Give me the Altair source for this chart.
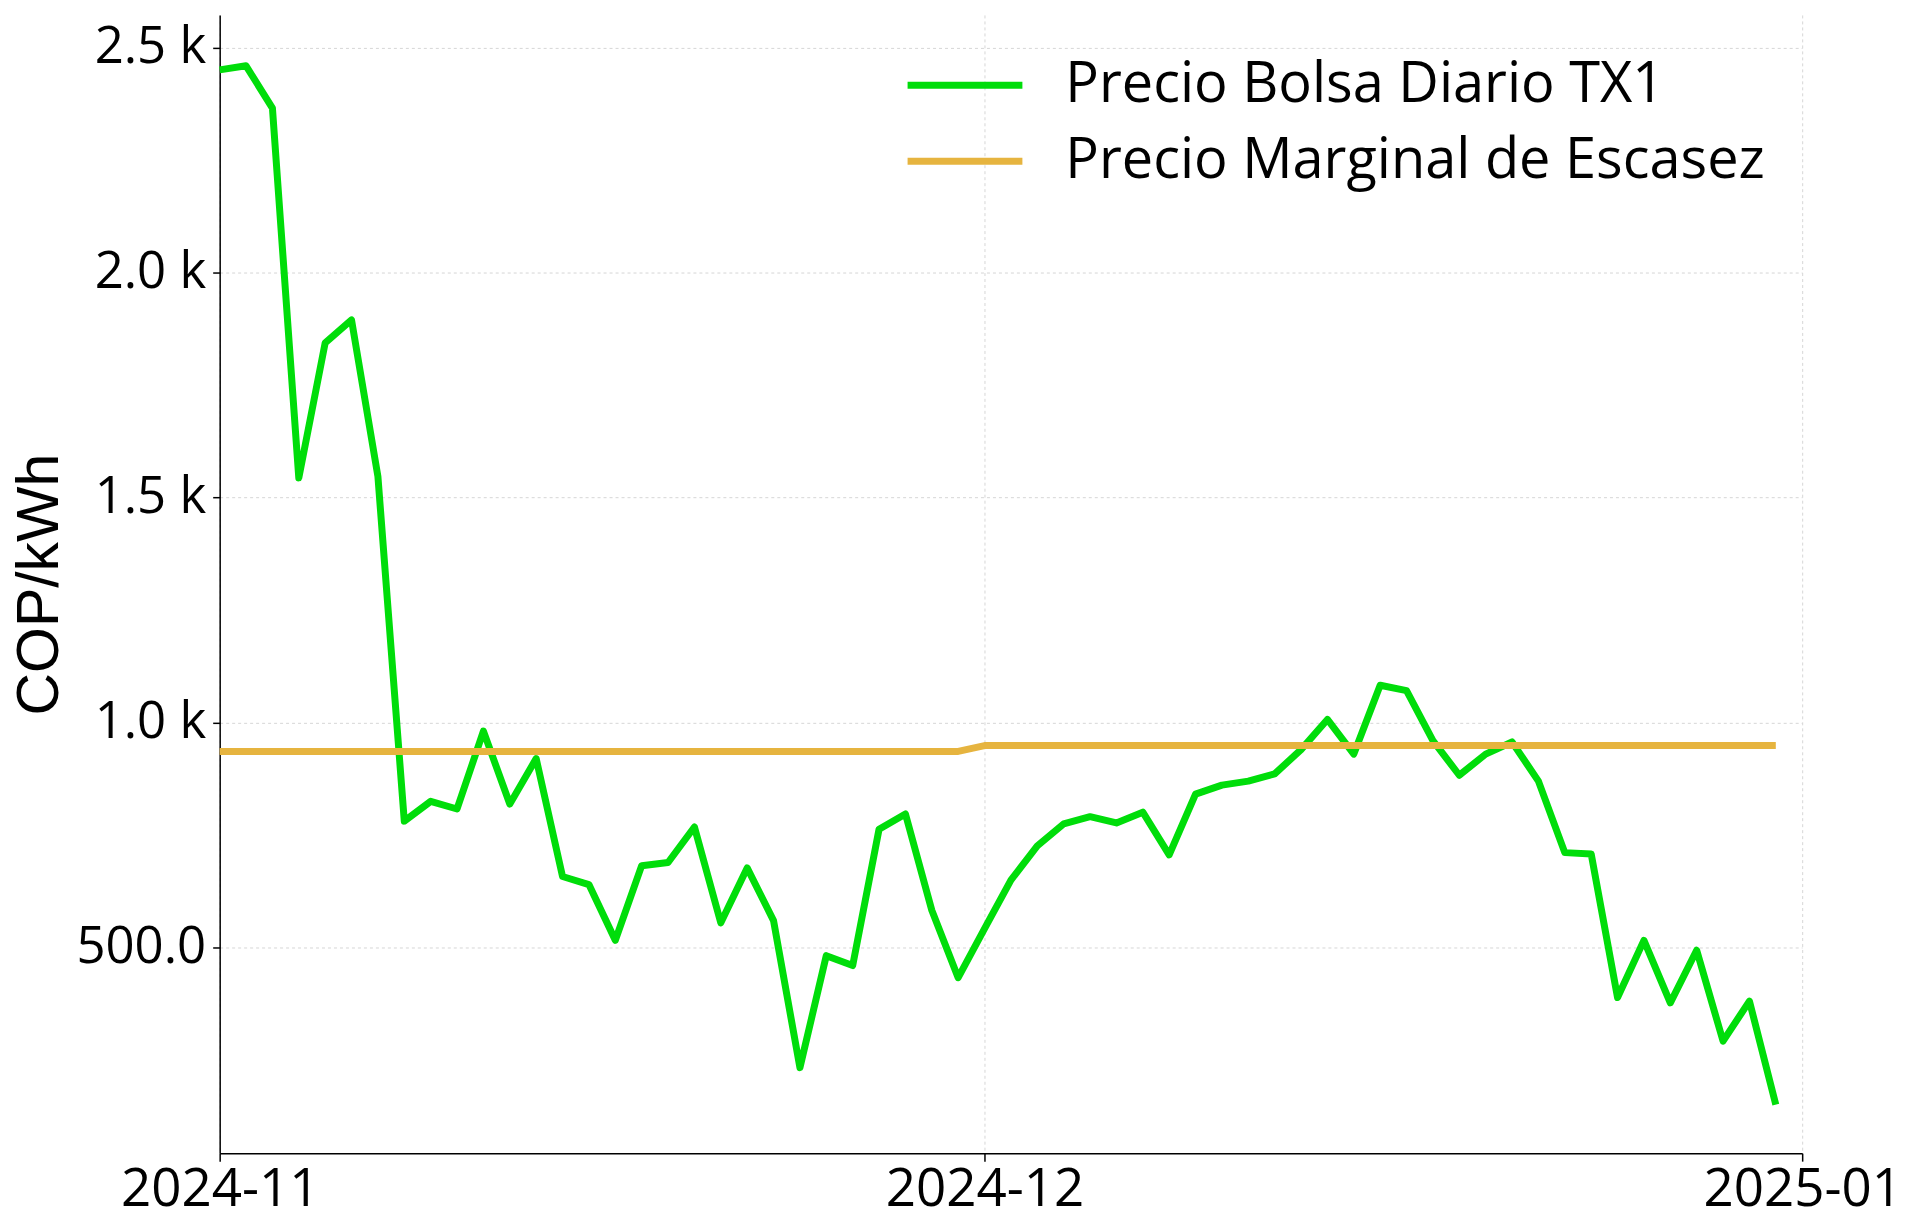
import altair as alt
import pandas as pd

# ---- data ----
dates = [d.strftime("%Y-%m-%d") for d in pd.date_range("2024-11-02", "2024-12-31", freq="D")]

precio_bolsa = [
    2451, 2460, 2366, 1544, 1844, 1895, 1547, 781, 825, 808,
    981, 819, 920, 658, 640, 516, 682, 689, 768, 555,
    677, 560, 233, 482, 460, 763, 797, 583, 433,
    542, 650, 726, 775, 791, 777, 801, 706, 841, 861,
    870, 886, 940, 1007, 930, 1083, 1071, 960, 883, 930,
    957, 870, 711, 708, 389, 516, 377, 494, 292, 381, 151,
]

precio_escasez = [
    936, 936, 936, 936, 936, 936, 936, 936, 936, 936,
    936, 936, 936, 936, 936, 936, 936, 936, 936, 936,
    936, 936, 936, 936, 936, 936, 936, 936, 936,
    949, 949, 949, 949, 949, 949, 949, 949, 949, 949,
    949, 949, 949, 949, 949, 949, 949, 949, 949, 949,
    949, 949, 949, 949, 949, 949, 949, 949, 949, 949, 949,
]

series_names = ["Precio Bolsa Diario TX1", "Precio Marginal de Escasez"]
series_colors = ["#00dd0a", "#e6b43f"]
y_ticks = [500, 1000, 1500, 2000, 2500]

rows = []
for d, v in zip(dates, precio_bolsa):
    rows.append({"fecha": d, "valor": v, "serie": series_names[0]})
for d, v in zip(dates, precio_escasez):
    rows.append({"fecha": d, "valor": v, "serie": series_names[1]})
df = pd.DataFrame(rows)

x_start = alt.DateTime(year=2024, month=11, date=2, utc=True)
x_mid = alt.DateTime(year=2024, month=12, date=1, utc=True)
x_end = alt.DateTime(year=2025, month=1, date=1, utc=True)

chart = (
    alt.Chart(df)
    .mark_line(strokeWidth=7, strokeJoin="round", strokeCap="butt")
    .encode(
        x=alt.X(
            "fecha:T",
            scale=alt.Scale(type="utc", domain=[x_start, x_end], nice=False),
            axis=alt.Axis(
                title=None,
                values=[x_start, x_mid, x_end],
                labelExpr="utcFormat(datum.value, '%Y-%m')",
                labelFlush=False,
                labelOverlap=False,
                labelLimit=500,
                labelFont="Open Sans",
                labelFontSize=53,
                labelColor="black",
                labelPadding=2,
                tickSize=8,
                tickWidth=1.5,
                tickColor="black",
                domainColor="black",
                domainWidth=1.5,
                grid=True,
                gridColor="#d6d6d6",
                gridDash=[3, 3],
                gridWidth=1,
            ),
        ),
        y=alt.Y(
            "valor:Q",
            scale=alt.Scale(domain=[43, 2573], nice=False, zero=False),
            axis=alt.Axis(
                title="COP/kWh",
                titleFont="Liberation Sans",
                titleFontSize=59,
                titleFontWeight="normal",
                titleColor="black",
                titlePadding=6,
                values=y_ticks,
                labelExpr="datum.value >= 1000 ? format(datum.value / 1000, '.1f') + ' k' : format(datum.value, '.1f')",
                labelFont="Open Sans",
                labelFontSize=51,
                labelColor="black",
                labelPadding=7,
                tickSize=7,
                tickWidth=1.5,
                tickColor="black",
                domainColor="black",
                domainWidth=1.5,
                grid=True,
                gridColor="#d6d6d6",
                gridDash=[3, 3],
                gridWidth=1,
            ),
        ),
        color=alt.Color(
            "serie:N",
            scale=alt.Scale(domain=series_names, range=series_colors),
            legend=alt.Legend(
                title=None,
                orient="none",
                legendX=714,
                legendY=38,
                symbolType="M-2,0H2",
                symbolSize=3306,
                symbolStrokeWidth=7,
                symbolFillColor="transparent",
                labelFont="Open Sans",
                labelFontSize=56,
                labelColor="black",
                labelOffset=68,
                labelLimit=1000,
                rowPadding=15,
                padding=0,
            ),
        ),
    )
    .properties(
        width=1585,
        height=1140,
        autosize=alt.AutoSizeParams(type="none"),
        padding={"left": 212, "top": 6, "right": 110, "bottom": 70},
    )
    .configure_view(strokeWidth=0)
)

chart.save("out.html", embed_options={"renderer": "svg", "actions": False})
